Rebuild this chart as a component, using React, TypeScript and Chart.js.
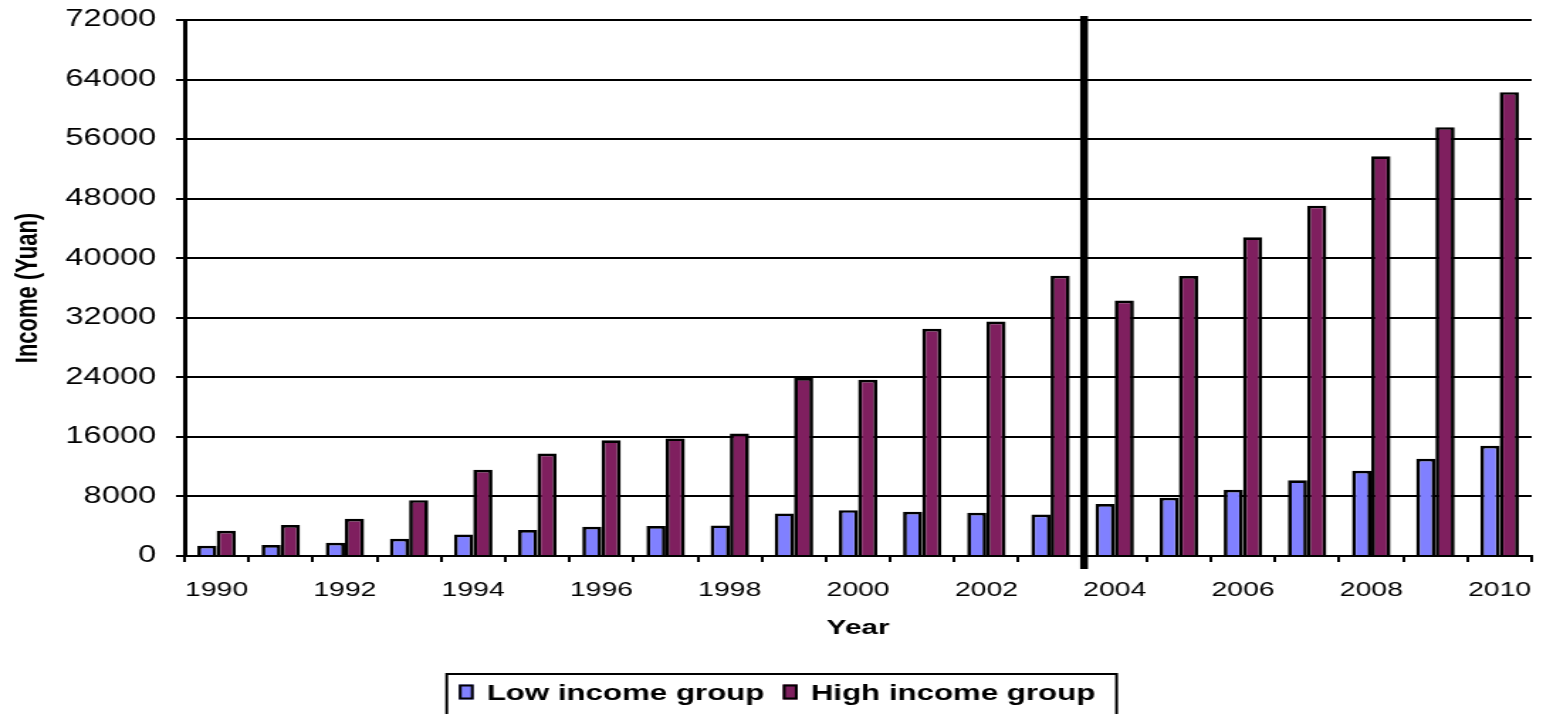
import React, { useEffect, useRef } from 'react';
import { Chart, registerables } from 'chart.js';

Chart.register(...registerables);

// ---- data ----
const years = ['1990', '1991', '1992', '1993', '1994', '1995', '1996', '1997', '1998', '1999', '2000', '2001', '2002', '2003', '2004', '2005', '2006', '2007', '2008', '2009', '2010'];
const lowIncome = [1380, 1470, 1780, 2320, 2900, 3480, 3930, 4020, 4110, 5720, 6160, 5940, 5800, 5580, 6980, 7820, 8900, 10160, 11460, 13070, 14800];
const highIncome = [3390, 4150, 5000, 7500, 11570, 13760, 15540, 15800, 16440, 23900, 23680, 30510, 31490, 37650, 34330, 37600, 42810, 47060, 53690, 57610, 62310];
const seriesNames = ['Low income group', 'High income group'];
const seriesColors = ['#8080FF', '#7F1F5F'];
const yMin = 0;
const yMax = 72000;
const yStep = 8000;
const xTitle = 'Year';
const yTitle = 'Income (Yuan)';
const dividerAfterYear = '2003';

// ---- layout (logical canvas is stretched horizontally, as in the reference) ----
const OUT_W = 1543;
const OUT_H = 714;
const LOG_W = 1087;
const SX = OUT_W / LOG_W;
const FONT = '"Liberation Sans", Arial, sans-serif';

const dividerPlugin = {
  id: 'divider',
  afterDatasetsDraw(chart: any) {
    const xs = chart.scales.x;
    const idx = years.indexOf(dividerAfterYear);
    if (idx < 0) return;
    const bx = (xs.getPixelForValue(idx) + xs.getPixelForValue(idx + 1)) / 2 + 1;
    const { top, bottom } = chart.chartArea;
    const ctx = chart.ctx;
    ctx.save();
    ctx.fillStyle = '#000';
    ctx.fillRect(bx - 2.75, top - 4, 5.5, bottom - top + 17);
    ctx.restore();
  },
};

const boxLegendPlugin = {
  id: 'boxLegend',
  afterDraw(chart: any) {
    const ctx = chart.ctx;
    ctx.save();
    ctx.font = `bold 22px ${FONT}`;
    const boxX = 314.7;
    const boxY = 674;
    const swW = 10.5;
    const swH = 15;
    const swY = 684.5;
    const baseY = 699.5;
    let x = boxX + 8.5;
    seriesNames.forEach((name, i) => {
      if (i > 0) x += 13;
      ctx.fillStyle = seriesColors[i];
      ctx.fillRect(x, swY, swW, swH);
      ctx.strokeStyle = '#000';
      ctx.lineWidth = 2;
      ctx.strokeRect(x + 1, swY + 1, swW - 2, swH - 2);
      x += swW + 9.2;
      ctx.fillStyle = '#000';
      ctx.textBaseline = 'alphabetic';
      ctx.textAlign = 'left';
      ctx.fillText(name, x, baseY);
      x += ctx.measureText(name).width;
    });
    const boxR = x + 15;
    ctx.strokeStyle = '#000';
    ctx.lineWidth = 2;
    ctx.strokeRect(boxX, boxY, boxR - boxX, 60);
    ctx.restore();
  },
};

export default function App() {
  const canvasRef = useRef<HTMLCanvasElement>(null);

  useEffect(() => {
    const canvas = canvasRef.current;
    if (!canvas) return;
    const chart = new Chart(canvas, {
      type: 'bar',
      data: {
        labels: years,
        datasets: [
          {
            label: seriesNames[0],
            data: lowIncome,
            backgroundColor: seriesColors[0],
            borderColor: '#000',
            borderWidth: 2.7,
            categoryPercentage: 0.6,
            barPercentage: 1.0,
          },
          {
            label: seriesNames[1],
            data: highIncome,
            backgroundColor: seriesColors[1],
            borderColor: '#000',
            borderWidth: 2.7,
            categoryPercentage: 0.6,
            barPercentage: 1.0,
          },
        ],
      },
      options: {
        responsive: true,
        maintainAspectRatio: false,
        animation: false,
        devicePixelRatio: 1,
        layout: { padding: { left: 0, right: 8, top: 20, bottom: 0 } },
        plugins: {
          legend: { display: false },
          tooltip: { enabled: false },
        },
        scales: {
          x: {
            type: 'category',
            offset: true,
            grid: {
              display: true,
              offset: true,
              drawOnChartArea: false,
              drawTicks: true,
              tickLength: 6,
              color: '#000',
              tickColor: '#000',
              tickWidth: 2,
              lineWidth: 2,
            },
            border: { display: true, color: '#000', width: 2 },
            ticks: {
              autoSkip: false,
              maxRotation: 0,
              minRotation: 0,
              padding: 16,
              color: '#000',
              font: { family: FONT, size: 20 },
              callback: (_v: any, i: number) => (i % 2 === 0 ? years[i] : ''),
            },
            title: {
              display: true,
              text: xTitle,
              color: '#000',
              font: { family: FONT, size: 21, weight: 'bold' },
              padding: { top: 0, bottom: 73 },
            },
            afterFit: (s: any) => {
              s.height = 158;
              s.paddingLeft = 0;
              s.paddingRight = 0;
            },
          },
          y: {
            min: yMin,
            max: yMax,
            ticks: {
              stepSize: yStep,
              padding: 14,
              color: '#000',
              font: { family: FONT, size: 23 },
              callback: (v: any) => String(v),
            },
            grid: {
              display: true,
              drawTicks: true,
              tickLength: 6,
              color: '#000',
              tickColor: '#000',
              lineWidth: 2,
              tickWidth: 2,
            },
            border: { display: true, color: '#000', width: 3 },
            title: {
              display: true,
              text: yTitle,
              color: '#000',
              font: { family: FONT, size: 22, weight: 'bold' },
              padding: { top: 7, bottom: 0 },
            },
            afterFit: (s: any) => {
              s.width = 130;
              s.paddingTop = 0;
              s.paddingBottom = 0;
            },
          },
        },
      },
      plugins: [dividerPlugin, boxLegendPlugin],
    } as any);
    return () => chart.destroy();
  }, []);

  return (
    <div style={{ position: 'fixed', left: 0, top: 0, width: OUT_W, height: OUT_H, background: '#fff', overflow: 'hidden' }}>
      <div
        style={{
          position: 'absolute',
          left: 0,
          top: 0,
          width: LOG_W,
          height: OUT_H,
          transform: `scaleX(${SX})`,
          transformOrigin: '0 0',
        }}
      >
        <canvas ref={canvasRef} />
      </div>
    </div>
  );
}
